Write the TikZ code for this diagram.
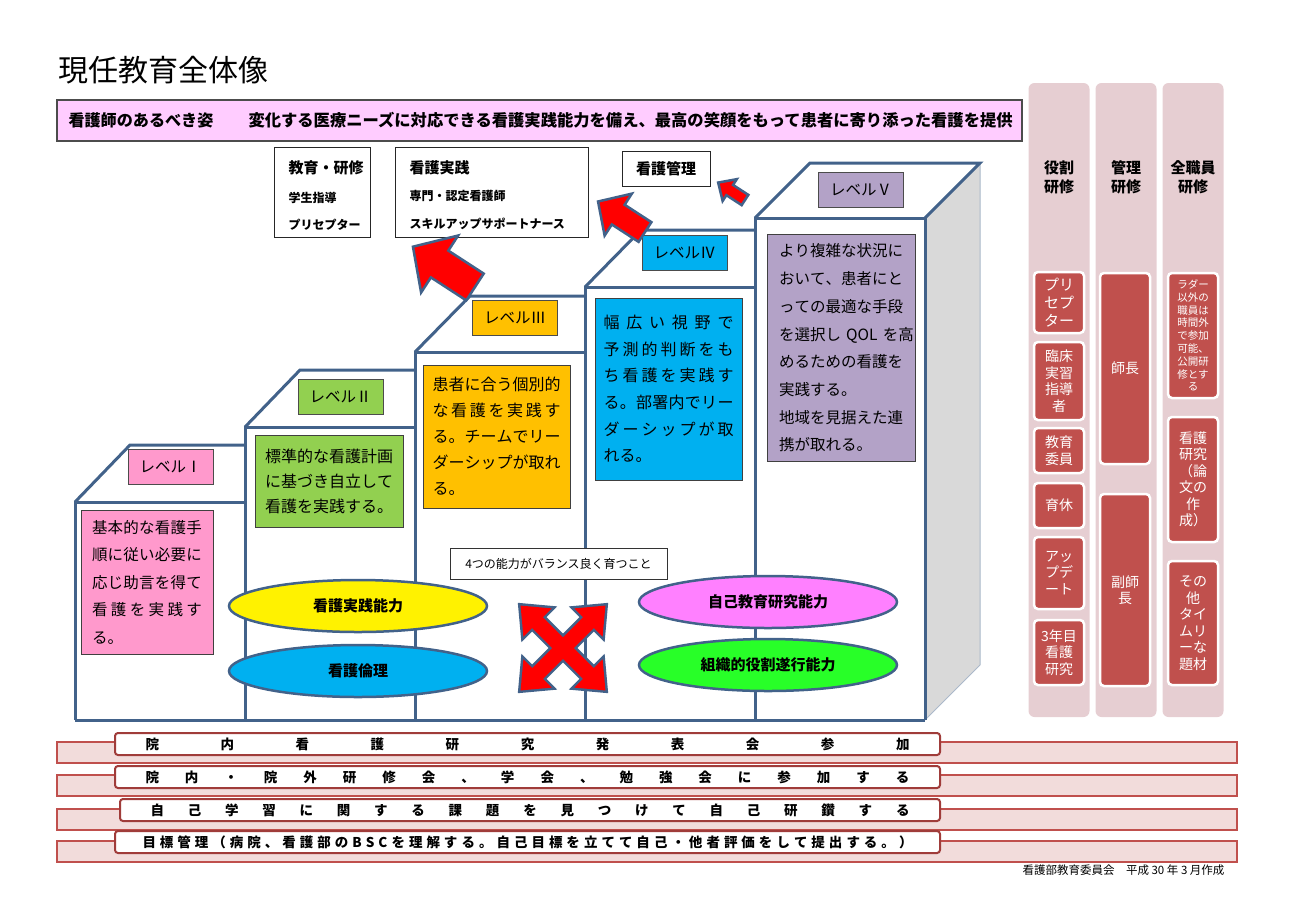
\documentclass[tikz,border=0pt]{standalone}
\usepackage{fontspec}
\setmainfont{Noto Sans CJK JP}
\usetikzlibrary{shapes.geometric}

\definecolor{stairblue}{RGB}{66,98,138}
\definecolor{lvone}{RGB}{255,153,204}
\definecolor{lvtwo}{RGB}{146,208,80}
\definecolor{lvthree}{RGB}{255,192,0}
\definecolor{lvfour}{RGB}{0,176,240}
\definecolor{lvfive}{RGB}{179,162,199}
\definecolor{bannerpink}{RGB}{255,204,255}
\definecolor{colbg}{RGB}{230,206,210}
\definecolor{colbox}{RGB}{192,80,77}
\definecolor{barpink}{RGB}{242,220,219}
\definecolor{barred}{RGB}{192,80,77}
\definecolor{boxred}{RGB}{160,60,58}
\definecolor{ovalpink}{RGB}{255,128,255}
\definecolor{ovalgreen}{RGB}{40,255,40}
\definecolor{sidegray}{RGB}{217,217,217}

\newcommand\setfs[2]{\fontsize{#1}{#2}\selectfont}
\def\jfirst#1{#1\jnext}
\def\jnext#1{\ifx#1\relax\else\hfill#1\expandafter\jnext\fi}
\newcommand\spread[2]{\makebox[#1][l]{\jfirst#2\relax}}
\newcommand\jline[1]{\spread{\hsize}{#1}}

\begin{document}
\begin{tikzpicture}[x=1pt,y=-1pt,
  stair/.style={draw=stairblue,line width=3pt,line join=miter},
  levelbox/.style={draw=black!75,line width=0.8pt,inner sep=0pt,align=left,
    execute at begin node=\selectfont},
  levellabel/.style={draw=black!70,line width=0.8pt,minimum width=85pt,
    minimum height=35pt,inner sep=0pt,font=\setfs{15.5}{18}},
  topbox/.style={draw=black!85,line width=1pt,fill=white,inner sep=0pt},
  toptitle/.style={anchor=west,font=\bfseries\setfs{15}{18}},
  topsub/.style={anchor=west,font=\bfseries\setfs{12}{14}},
  oval/.style={ellipse,draw=stairblue,line width=2.5pt,minimum width=258pt,
    minimum height=52pt,font=\bfseries\setfs{15}{18}},
  blockarrow/.style={draw=stairblue,fill=red,line width=2.5pt,line join=miter},
  trackcol/.style={fill=colbg,rounded corners=6pt,minimum width=61pt,
    minimum height=634pt,inner sep=0pt},
  colhead/.style={font=\bfseries\setfs{15}{19},align=center},
  rolebox/.style={fill=colbox,draw=white,line width=2.5pt,rounded corners=4pt,
    text=white,align=center,inner sep=0pt,minimum width=50pt,font=\setfs{14}{16.5}},
  rowbar/.style={fill=barpink,draw=barred,line width=2pt,minimum width=1180pt,
    minimum height=21pt,inner sep=0pt},
  rowbox/.style={fill=white,draw=boxred,line width=2pt,rounded corners=3pt,
    minimum height=22pt,inner sep=0pt,font=\bfseries\setfs{13.5}{16}},
  fatarrow/.pic={\path[pic actions] (0,-0.47) -- (0.57,-0.47) -- (0.57,-1)
    -- (1,0) -- (0.57,1) -- (0.57,0.47) -- (0,0.47) -- cycle;},
  crossarm/.pic={\path[pic actions] (-1,0) -- (-0.6,-1) -- (-0.6,-0.38)
    -- (0.6,-0.38) -- (0.6,-1) -- (1,0) -- (0.6,1) -- (0.6,0.38)
    -- (-0.6,0.38) -- (-0.6,1) -- cycle;}]
\useasboundingbox (0,0) rectangle (1300,919);

% title and banner
\node[anchor=west,font=\setfs{30}{32}] (title) at (55,70) {現任教育全体像};
\node[draw=black!70,line width=1.2pt,fill=bannerpink,minimum width=965pt,
  minimum height=41pt,inner sep=0pt] (ideal) at (539.5,120.5) {};
\node[anchor=west,font=\bfseries\setfs{16.1}{18}] (idealhead) at (65,120.5)
  {看護師のあるべき姿};
\node[anchor=west,font=\bfseries\setfs{16.3}{18}] (idealtext) at (245,120.5)
  {変化する医療ニーズに対応できる看護実践能力を備え、最高の笑顔をもって患者に寄り添った看護を提供};

% career boxes
\node[topbox,minimum width=96pt,minimum height=90pt] (edu) at (322,192) {};
\node[toptitle] (edutitle) at (285,168) {教育・研修};
\node[topsub] (edusub) at (285,198) {学生指導};
\node[topsub] (eduprecep) at (285,225) {プリセプター};
\node[topbox,minimum width=193pt,minimum height=90pt] (prac) at (491.5,192) {};
\node[toptitle] (practitle) at (406,168) {看護実践};
\node[topsub] (pracsub) at (406,196) {専門・認定看護師};
\node[topsub] (pracsupport) at (406,224) {スキルアップサポートナース};
\node[topbox,minimum width=88pt,minimum height=35pt,
  font=\bfseries\setfs{15}{18}] (mgmt) at (666,168.5) {看護管理};

% staircase
\draw[stair] (75,720) -- (75,502) -- (245,502);
\draw[stair] (75,502) -- (130,445) -- (245,445);
\draw[stair] (245,720) -- (245,427) -- (415,427);
\draw[stair] (245,427) -- (300,370) -- (415,370);
\draw[stair] (415,720) -- (415,352) -- (585,352);
\draw[stair] (415,352) -- (470,296) -- (585,296);
\draw[stair] (585,720) -- (585,287) -- (755,287);
\draw[stair] (585,287) -- (641,230) -- (755,230);
\fill[sidegray] (925,218) -- (980,163) -- (980,665) -- (925,720) -- cycle;
\draw[stairblue!45,line width=1pt] (980,163) -- (980,665) -- (925,720);
\draw[stair] (755,720) -- (755,218) -- (925,218) -- (925,720);
\draw[stair] (755,218) -- (810,163) -- (980,163) -- (925,218);
\draw[stair] (75,720) -- (925,720);

% levels
\node[levellabel,fill=lvone] (lvonelabel) at (170.5,467) {レベルⅠ};
\node[levelbox,fill=lvone,minimum width=132pt,minimum height=144pt,
  text width=110pt,font=\setfs{15.5}{27.5}] (lvonetext) at (147,582)
  {\jline{基本的な看護手}\\\jline{順に従い必要に}\\\jline{応じ助言を得て}\\
   \jline{看護を実践す}\\る。};
\node[levellabel,fill=lvtwo] (lvtwolabel) at (340.5,396.5) {レベルⅡ};
\node[levelbox,fill=lvtwo,minimum width=148pt,minimum height=92pt,
  text width=128pt,font=\setfs{16}{25}] (lvtwotext) at (329,481)
  {\jline{標準的な看護計画}\\\jline{に基づき自立して}\\看護を実践する。};
\node[levellabel,fill=lvthree] (lvthreelabel) at (515,317.5) {レベルⅢ};
\node[levelbox,fill=lvthree,minimum width=147pt,minimum height=143pt,
  text width=128pt,font=\setfs{16}{26}] (lvthreetext) at (496.5,436.5)
  {\jline{患者に合う個別的}\\\jline{な看護を実践す}\\\jline{る。チームでリー}\\
   \jline{ダーシップが取れ}\\る。};
\node[levellabel,fill=lvfour] (lvfourlabel) at (684.5,253) {レベルⅣ};
\node[levelbox,fill=lvfour,minimum width=147pt,minimum height=182pt,
  text width=130pt,font=\setfs{16}{26.7}] (lvfourtext) at (668.5,389)
  {\jline{幅広い視野で}\\\jline{予測的判断をも}\\\jline{ち看護を実践す}\\
   \jline{る。部署内でリー}\\\jline{ダーシップが取}\\れる。};
\node[levellabel,fill=lvfive] (lvfivelabel) at (861,189.5) {レベルⅤ};
\node[levelbox,fill=lvfive,minimum width=148pt,minimum height=227pt,
  text width=124pt,font=\setfs{15.5}{27.7}] (lvfivetext) at (841,348)
  {\jline{より複雑な状況に}\\\jline{おいて、患者にと}\\\jline{っての最適な手段}\\
   \makebox[\hsize][l]{を選択し QOL を高}\\\jline{めるための看護を}\\実践する。\\
   \jline{地域を見据えた連}\\携が取れる。};

% step-up arrows
\pic[blockarrow,rotate=147,xscale=74,yscale=34] at (475,287) {fatarrow};
\pic[blockarrow,rotate=147,xscale=56,yscale=25] at (645,232) {fatarrow};
\pic[blockarrow,rotate=147,xscale=32,yscale=13] at (745,200) {fatarrow};

% four abilities
\node[draw=black!80,line width=1pt,fill=white,minimum width=217pt,
  minimum height=31pt,font=\setfs{12}{14}] (balance) at (558.5,563.5)
  {4つの能力がバランス良く育つこと};
\node[oval,fill=yellow] (pracskill) at (358,606) {看護実践能力};
\node[oval,fill=lvfour] (ethics) at (358,671) {看護倫理};
\node[oval,fill=ovalpink] (selfstudy) at (768,602) {自己教育研究能力};
\node[oval,fill=ovalgreen] (roleskill) at (768,665) {組織的役割遂行能力};
\pic[draw=stairblue,fill=red,line width=5pt,rotate=45,xscale=60,yscale=20]
  at (563,648) {crossarm};
\pic[draw=stairblue,fill=red,line width=5pt,rotate=-45,xscale=60,yscale=20]
  at (563,648) {crossarm};
\pic[fill=red,rotate=45,xscale=60,yscale=20] at (563,648) {crossarm};
\pic[fill=red,rotate=-45,xscale=60,yscale=20] at (563,648) {crossarm};

% training tracks
\node[trackcol] (roletrack) at (1059,400) {};
\node[trackcol] (mgmttrack) at (1126,400) {};
\node[trackcol] (alltrack) at (1193,400) {};
\node[colhead] (rolehead) at (1059,177) {役割\\研修};
\node[colhead] (mgmthead) at (1126,177) {管理\\研修};
\node[colhead] (allhead) at (1193,177) {全職員\\研修};
\node[rolebox,minimum height=61pt,font=\setfs{15}{18}] (precep) at (1059,302.5)
  {プリ\\セプ\\ター};
\node[rolebox,minimum height=78pt] (clinical) at (1059,381) {臨床\\実習\\指導\\者};
\node[rolebox,minimum height=45pt] (committee) at (1059,450.5) {教育\\委員};
\node[rolebox,minimum height=45pt] (leave) at (1059,505.5) {育休};
\node[rolebox,minimum height=72pt] (update) at (1059,573) {アッ\\プデ\\ート};
\node[rolebox,minimum height=65pt] (thirdyear) at (1059,652.5) {3年目\\看護\\研究};
\node[rolebox,minimum height=191pt] (head) at (1125,368.5) {師長};
\node[rolebox,minimum height=192pt] (vicehead) at (1125,590) {副師\\長};
\node[rolebox,minimum height=125pt,font=\setfs{10.5}{12.8}] (ladder) at (1193,335.5)
  {ラダー\\以外の\\職員は\\時間外\\で参加\\可能、\\公開研\\修とす\\る};
\node[rolebox,minimum height=125pt] (research) at (1193,479.5)
  {看護\\研究\\（論\\文の\\作\\成）};
\node[rolebox,minimum height=124pt] (other) at (1193,623)
  {その\\他\\タイ\\ムリ\\ーな\\題材};

% everyday learning
\node[rowbar] (barone) at (647,752.5) {};
\node[rowbox,minimum width=825pt] (rowone) at (527.5,744)
  {\spread{764pt}{院内看護研究発表会参加}};
\node[rowbar] (bartwo) at (647,785.5) {};
\node[rowbox,minimum width=825pt] (rowtwo) at (527.5,777)
  {\spread{764pt}{院内・院外研修会、学会、勉強会に参加する}};
\node[rowbar] (barthree) at (647,819) {};
\node[rowbox,minimum width=820pt] (rowthree) at (530,810)
  {\spread{759pt}{自己学習に関する課題を見つけて自己研鑽する}};
\node[rowbar] (barfour) at (647,851.5) {};
\node[rowbox,minimum width=825pt] (rowfour) at (527.5,842)
  {\spread{770pt}{目標管理（病院、看護部のBSCを理解する。自己目標を立てて自己・他者評価をして提出する。）}};

\node[anchor=east,font=\setfs{11.5}{13}] (credit) at (1228,870)
  {看護部教育委員会　平成 30 年 3 月作成};
\end{tikzpicture}
\end{document}
